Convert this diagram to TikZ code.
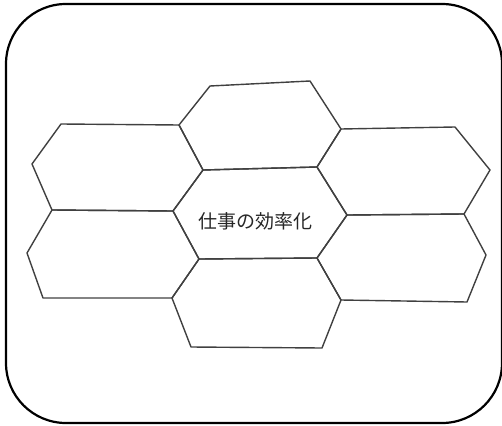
\documentclass[tikz,border=0pt]{standalone}
\usepackage{fontspec}
\newfontfamily\jpfont{Noto Sans CJK JP}
\usetikzlibrary{calc}

\begin{document}
\begin{tikzpicture}[x=1pt,y=-1pt,
  hexline/.style={draw=black!75, line width=1.4pt, line join=round},
  cardframe/.style={draw=black, line width=2.2pt, rounded corners=60pt}]
\useasboundingbox (0,0) rectangle (502,425);
\draw[cardframe] (6,4) rectangle (502,423);
% vertices of the honeycomb
\coordinate (A) at (61,124);  \coordinate (B) at (179,125);
\coordinate (C) at (210,86);  \coordinate (D) at (310,81);
\coordinate (E) at (341,129); \coordinate (F) at (317,167);
\coordinate (G) at (203,170); \coordinate (H) at (173,211);
\coordinate (I) at (32,164);  \coordinate (J) at (52,210);
\coordinate (K) at (347,215); \coordinate (L) at (317,258);
\coordinate (M) at (199,259); \coordinate (N) at (172,298);
\coordinate (O) at (27,253);  \coordinate (P) at (43,298);
\coordinate (Q) at (191,347); \coordinate (R) at (322,348);
\coordinate (S) at (341,300); \coordinate (T) at (467,302);
\coordinate (U) at (486,255); \coordinate (V) at (464,214);
\coordinate (W) at (490,170); \coordinate (X) at (455,127);
\foreach \a/\b/\c/\d/\e/\f in {C/D/E/F/G/B, A/B/G/H/J/I, G/F/K/L/M/H,
    E/X/W/V/K/F, J/H/M/N/P/O, K/V/U/T/S/L, M/L/S/R/Q/N}
  \draw[hexline] (\a)--(\b)--(\c)--(\d)--(\e)--(\f)--cycle;
\node[font=\jpfont\fontsize{19}{19}\selectfont, text=black!85] (theme) at (255,221) {仕事の効率化};
\end{tikzpicture}
\end{document}
